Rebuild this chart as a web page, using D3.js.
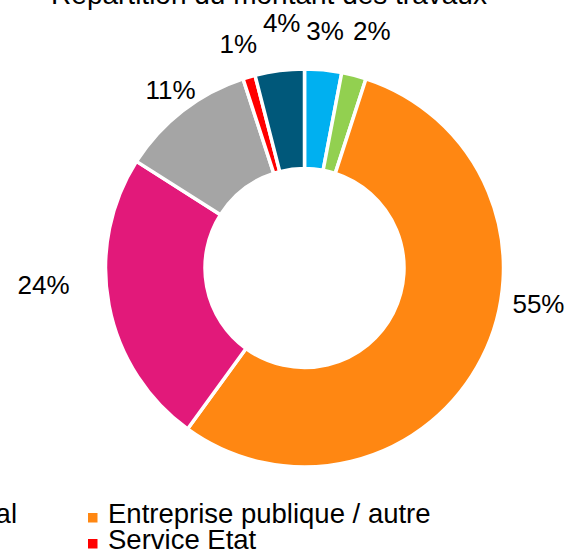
<!DOCTYPE html>
<html>
<head>
<meta charset="utf-8">
<script src="https://cdn.jsdelivr.net/npm/d3@7"></script>
<style>
  html, body { margin: 0; padding: 0; background: #fff; overflow: hidden; }
  svg { display: block; font-family: "Liberation Sans", Arial, sans-serif; }
</style>
</head>
<body>
<svg id="chart" width="581" height="558"></svg>
<script>
// Data
const categories = ["Commune", "Conseil Départemental", "Entreprise publique / autre",
    "Bailleur social", "Particulier", "Service Etat", "Autre collectivité"];
const values = [3, 2, 55, 24, 11, 1, 4];
const colors = ["#00B0F0", "#92D050", "#FF8712", "#E2197A", "#A5A5A5", "#FF0000", "#00587A"];
const title = "Répartition du montant des travaux";

// label nudges (px), Excel moved some labels by hand
const labelNudge = [[-1, -8], [10, -14], [29, -69], [-35, -26], [7, 4], [-2, -3], [6, -17]];

var svg = d3.select("svg#chart"),
    width = +svg.attr("width"),
    height = +svg.attr("height");

const cx = 304.5, cy = 268;
const outerR = 199, innerR = outerR * 0.5;

// title (mostly cut off at the top)
svg.append("text")
    .attr("x", 269)
    .attr("y", 4)
    .attr("text-anchor", "middle")
    .style("font-size", "28px")
    .attr("fill", "#000")
    .text(title);

var pie = d3.pie().sort(null).value(d => d)
    .startAngle(0).endAngle(2 * Math.PI);
var arcs = pie(values);

var arc = d3.arc().innerRadius(innerR).outerRadius(outerR);
var labelArc = d3.arc().innerRadius(230).outerRadius(230);

var g = svg.append("g").attr("transform", `translate(${cx},${cy})`);

g.selectAll("path")
    .data(arcs)
    .enter()
    .append("path")
    .attr("d", arc)
    .attr("fill", (d, i) => colors[i])
    .attr("stroke", "#fff")
    .attr("stroke-width", 3.5)
    .attr("stroke-linejoin", "round");

var total = d3.sum(values);
g.selectAll("text.lbl")
    .data(arcs)
    .enter()
    .append("text")
    .attr("class", "lbl")
    .attr("transform", (d, i) => {
        const c = labelArc.centroid(d);
        return `translate(${c[0] + labelNudge[i][0]},${c[1] + labelNudge[i][1]})`;
    })
    .attr("text-anchor", "middle")
    .attr("dy", "0.35em")
    .style("font-size", "26px")
    .attr("fill", "#000")
    .text(d => Math.round(d.value / total * 100) + "%");

// Legend: 3 columns, row-major, partly outside the picture
const legCols = 3, rowH = 26, markerSize = 9.5;
var legend = svg.append("g");
var items = legend.selectAll("g")
    .data(categories)
    .enter()
    .append("g");

items.append("rect")
    .attr("width", markerSize)
    .attr("height", markerSize)
    .attr("fill", (d, i) => colors[i]);

items.append("text")
    .attr("x", 20)
    .attr("y", 9.5)
    .style("font-size", "27.5px")
    .attr("fill", "#000")
    .text(d => d);

// column positions: third column marker at x=88, second column label ends at x=17
const col2End = 17;
const greenW = items.filter((d, i) => i === 1).select("text").node().getComputedTextLength();
const colX = [0, col2End - 20 - greenW, 88];
colX[0] = colX[1] - 420;

items.attr("transform", (d, i) => {
    const col = i % legCols, row = Math.floor(i / legCols);
    return `translate(${colX[col]},${513 + row * rowH})`;
});
</script>
</body>
</html>
